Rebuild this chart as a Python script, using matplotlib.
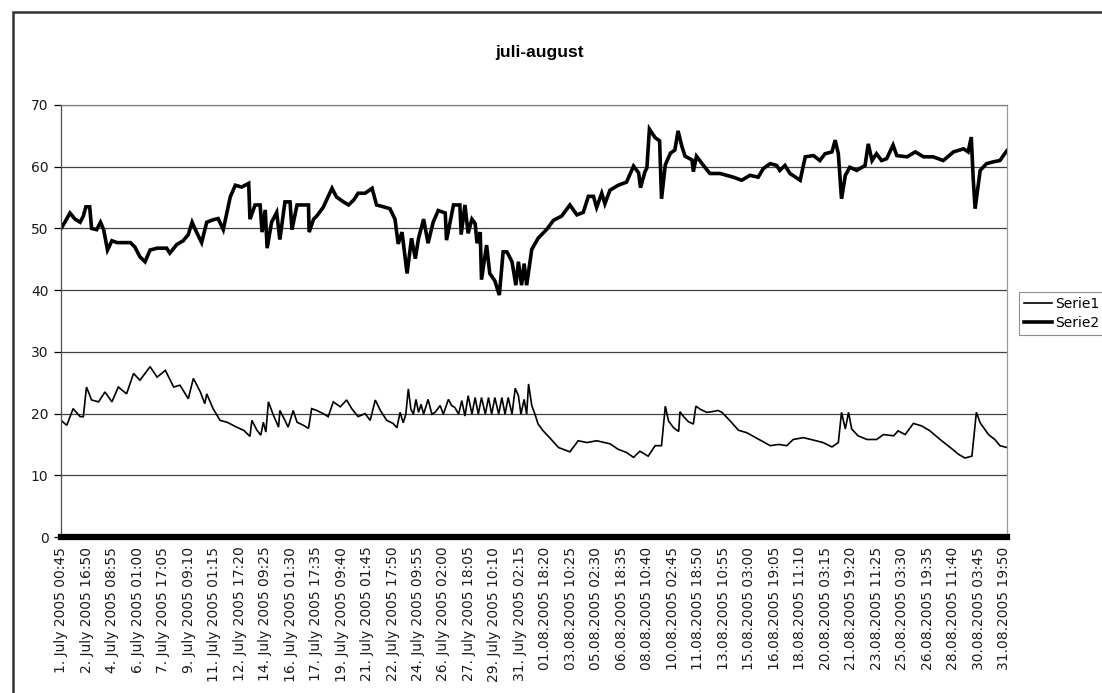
import matplotlib
matplotlib.use("Agg")
import matplotlib.pyplot as plt
import matplotlib.dates as mdates
from matplotlib.patches import Rectangle
from datetime import datetime, timedelta

# measuring period, 5 minute logging
start = datetime(2005, 7, 1, 0, 45)
end = datetime(2005, 8, 31, 23, 55)
label_step = timedelta(hours=40, minutes=5)

tick_labels = [
    "1. July 2005 00:45", "2. July 2005 16:50", "4. July 2005 08:55",
    "6. July 2005 01:00", "7. July 2005 17:05", "9. July 2005 09:10",
    "11. July 2005 01:15", "12. July 2005 17:20", "14. July 2005 09:25",
    "16. July 2005 01:30", "17. July 2005 17:35", "19. July 2005 09:40",
    "21. July 2005 01:45", "22. July 2005 17:50", "24. July 2005 09:55",
    "26. July 2005 02:00", "27. July 2005 18:05", "29. July 2005 10:10",
    "31. July 2005 02:15", "01.08.2005 18:20", "03.08.2005 10:25",
    "05.08.2005 02:30", "06.08.2005 18:35", "08.08.2005 10:40",
    "10.08.2005 02:45", "11.08.2005 18:50", "13.08.2005 10:55",
    "15.08.2005 03:00", "16.08.2005 19:05", "18.08.2005 11:10",
    "20.08.2005 03:15", "21.08.2005 19:20", "23.08.2005 11:25",
    "25.08.2005 03:30", "26.08.2005 19:35", "28.08.2005 11:40",
    "30.08.2005 03:45", "31.08.2005 19:50",
]

# (hours since start, value)
serie1 = [
    (0, 18.9), (9, 18.1), (19, 20.8), (30, 19.5), (35, 19.5), (40, 24.3),
    (48, 22.2), (59, 21.9), (69, 23.5), (80, 21.9), (90, 24.3), (103, 23.2),
    (114, 26.5), (124, 25.4), (140, 27.6), (151, 25.9), (164, 27.0), (177, 24.3),
    (187, 24.6), (200, 22.4), (208, 25.7), (219, 23.5), (226, 21.6), (229, 23.2),
    (239, 20.8), (250, 18.9), (261, 18.6), (276, 17.8), (287, 17.3), (297, 16.3),
    (300, 18.9), (308, 17.3), (314, 16.5), (318, 18.6), (322, 17.0), (326, 21.9),
    (334, 19.7), (342, 17.8), (344, 20.5), (352, 18.9), (357, 17.8), (365, 20.5),
    (371, 18.6), (381, 18.1), (389, 17.6), (394, 20.8), (402, 20.5), (412, 20.0),
    (420, 19.5), (428, 21.9), (439, 21.1), (449, 22.2), (457, 20.8), (467, 19.5),
    (478, 20.0), (486, 18.9), (494, 22.2), (502, 20.5), (512, 18.9), (522, 18.4),
    (528, 17.7), (533, 20.2), (538, 18.5), (542, 19.9), (546, 24.0), (550, 20.7),
    (554, 19.9), (558, 22.3), (562, 20.2), (566, 21.5), (570, 19.9), (577, 22.3),
    (583, 19.9), (588, 20.2), (596, 21.3), (601, 19.9), (609, 22.3), (614, 21.3),
    (619, 21.0), (625, 19.9), (630, 22.1), (635, 19.6), (640, 22.9), (646, 19.9),
    (651, 22.6), (656, 19.9), (661, 22.6), (667, 19.9), (672, 22.6), (677, 19.9),
    (682, 22.6), (688, 19.9), (693, 22.6), (698, 19.9), (703, 22.6), (709, 19.9),
    (714, 24.1), (719, 22.9), (723, 19.9), (728, 22.3), (732, 19.9), (735, 24.8),
    (740, 21.3), (745, 19.9), (750, 18.3), (758, 17.2), (769, 16.0), (782, 14.5),
    (800, 13.8), (813, 15.6), (827, 15.3), (842, 15.6), (863, 15.1), (876, 14.2),
    (889, 13.7), (900, 12.9), (910, 13.9), (923, 13.1), (934, 14.8), (944, 14.8),
    (950, 21.2), (955, 18.8), (963, 17.7), (971, 17.1), (973, 20.3), (978, 19.6),
    (986, 18.7), (994, 18.3), (998, 21.2), (1005, 20.7), (1015, 20.2), (1023, 20.3),
    (1033, 20.5), (1039, 20.2), (1052, 18.8), (1065, 17.3), (1078, 16.9), (1094, 16.0),
    (1115, 14.8), (1128, 15.0), (1141, 14.8), (1151, 15.8), (1167, 16.1), (1183, 15.7),
    (1198, 15.3), (1212, 14.6), (1222, 15.3), (1227, 20.2), (1233, 17.5), (1238, 20.2),
    (1243, 17.5), (1253, 16.4), (1267, 15.8), (1282, 15.8), (1293, 16.6), (1309, 16.4),
    (1316, 17.2), (1327, 16.6), (1340, 18.4), (1353, 18.0), (1366, 17.2), (1382, 15.8),
    (1398, 14.5), (1411, 13.4), (1421, 12.8), (1432, 13.1), (1439, 20.2), (1445, 18.5),
    (1458, 16.6), (1468, 15.8), (1476, 14.8), (1487, 14.5),
]

serie2 = [
    (0, 50.0), (6, 51.0), (14, 52.5), (22, 51.5), (30, 51.0), (35, 52.0),
    (39, 53.5), (45, 53.5), (48, 50.0), (56, 49.8), (62, 51.0), (67, 49.8),
    (73, 46.5), (80, 48.0), (88, 47.7), (109, 47.7), (116, 47.0), (124, 45.4),
    (132, 44.6), (140, 46.5), (151, 46.8), (166, 46.8), (171, 46.0), (182, 47.4),
    (192, 48.0), (200, 49.0), (206, 51.0), (213, 49.4), (221, 47.7), (229, 51.0),
    (239, 51.4), (247, 51.6), (255, 49.8), (266, 55.1), (274, 57.0), (284, 56.7),
    (295, 57.3), (297, 51.5), (305, 53.8), (313, 53.8), (316, 49.4), (321, 53.0),
    (324, 46.8), (331, 51.0), (339, 52.6), (344, 48.2), (352, 54.3), (360, 54.3),
    (363, 49.8), (371, 53.8), (389, 53.8), (390, 49.4), (397, 51.5), (402, 52.0),
    (412, 53.4), (426, 56.5), (433, 55.1), (444, 54.3), (452, 53.8), (460, 54.6),
    (467, 55.7), (478, 55.7), (489, 56.5), (496, 53.8), (507, 53.5), (517, 53.2),
    (525, 51.5), (530, 47.5), (536, 49.4), (544, 42.7), (551, 48.4), (557, 45.1),
    (562, 48.4), (570, 51.5), (577, 47.6), (585, 51.0), (593, 52.9), (604, 52.5),
    (606, 48.1), (617, 53.8), (627, 53.8), (629, 49.0), (635, 53.8), (640, 49.2),
    (646, 51.5), (651, 50.8), (654, 47.6), (659, 49.4), (661, 41.7), (669, 47.3),
    (674, 42.7), (682, 41.5), (689, 39.2), (695, 46.2), (701, 46.2), (709, 44.6),
    (715, 40.8), (719, 44.6), (724, 40.8), (728, 44.3), (732, 40.8), (740, 46.6),
    (750, 48.4), (764, 49.9), (774, 51.3), (787, 52.0), (800, 53.8), (811, 52.2),
    (821, 52.6), (829, 55.2), (837, 55.2), (842, 53.4), (850, 55.7), (855, 54.0),
    (863, 56.2), (876, 57.0), (889, 57.5), (900, 60.1), (908, 59.0), (911, 56.6),
    (918, 59.2), (921, 59.8), (925, 66.1), (934, 64.7), (941, 64.2), (944, 54.8),
    (950, 60.3), (958, 62.2), (965, 62.7), (970, 65.8), (976, 63.3), (981, 61.7),
    (992, 61.1), (994, 59.2), (999, 61.7), (1010, 60.2), (1020, 58.9), (1036, 58.9),
    (1057, 58.3), (1070, 57.8), (1083, 58.6), (1096, 58.3), (1104, 59.7), (1115, 60.5),
    (1125, 60.2), (1130, 59.4), (1138, 60.2), (1146, 58.9), (1162, 57.8), (1170, 61.6),
    (1183, 61.8), (1193, 61.0), (1201, 62.1), (1212, 62.4), (1217, 64.3), (1222, 62.1),
    (1227, 54.8), (1233, 58.6), (1240, 59.9), (1251, 59.4), (1264, 60.2), (1269, 63.7),
    (1275, 61.0), (1282, 62.1), (1290, 61.0), (1298, 61.3), (1308, 63.5), (1314, 61.8),
    (1330, 61.6), (1343, 62.4), (1356, 61.6), (1371, 61.6), (1387, 61.0), (1403, 62.4),
    (1419, 62.9), (1426, 62.4), (1431, 64.8), (1434, 58.1), (1437, 53.2), (1445, 59.4),
    (1455, 60.5), (1466, 60.8), (1476, 61.0), (1487, 62.6),
]


def split(series):
    times = [start + timedelta(hours=h) for h, v in series]
    values = [v for h, v in series]
    return times, values


fig = plt.figure(figsize=(11.02, 6.93), dpi=100)
ax = fig.add_axes([0.0554, 0.2251, 0.8584, 0.6234])

t1, v1 = split(serie1)
t2, v2 = split(serie2)
l1, = ax.plot(t1, v1, color="black", lw=1.2, solid_joinstyle="miter")
l2, = ax.plot(t2, v2, color="black", lw=2.6, solid_joinstyle="miter")

ax.set_xlim(start, end)
ax.set_ylim(0, 70)
ax.set_yticks(range(0, 71, 10))
ax.yaxis.grid(True, color="0.25", lw=0.9)
ax.set_axisbelow(True)

ticks = [start + k * label_step for k in range(len(tick_labels))]
ax.set_xticks(mdates.date2num(ticks))
ax.set_xticklabels(tick_labels, rotation=90, fontsize=10, va="top", ha="center")
ax.tick_params(axis="x", length=0, pad=7, labelcolor="0.1")
ax.tick_params(axis="y", length=5, width=0.9, pad=4, labelsize=10,
               direction="out", labelcolor="0.1")

ax.spines["bottom"].set_linewidth(4.5)
ax.spines["bottom"].set_color("black")
ax.spines["left"].set_linewidth(0.9)
ax.spines["left"].set_color("0.3")
ax.spines["right"].set_color("0.6")
ax.spines["right"].set_linewidth(0.9)
ax.spines["top"].set_color("0.5")
ax.spines["top"].set_linewidth(0.9)

fig.text(0.49, 0.924, "juli-august", ha="center", va="center",
         fontsize=12.5, fontweight="bold", family="Liberation Sans")

leg = fig.legend([l1, l2], ["Serie1", "Serie2"], loc="upper left",
                 bbox_to_anchor=(0.9247, 0.5786), fancybox=False,
                 edgecolor="0.45", fontsize=10, borderpad=0.35,
                 handlelength=2.0, handletextpad=0.25, labelspacing=0.35,
                 borderaxespad=0)
leg.get_frame().set_linewidth(0.8)

# chart frame
fig.patches.append(Rectangle((0.0118, -0.05), 1.2, 0.9827 + 0.05,
                             transform=fig.transFigure, fill=False,
                             ec="0.2", lw=1.8))

fig.savefig("out.png", dpi=100)
